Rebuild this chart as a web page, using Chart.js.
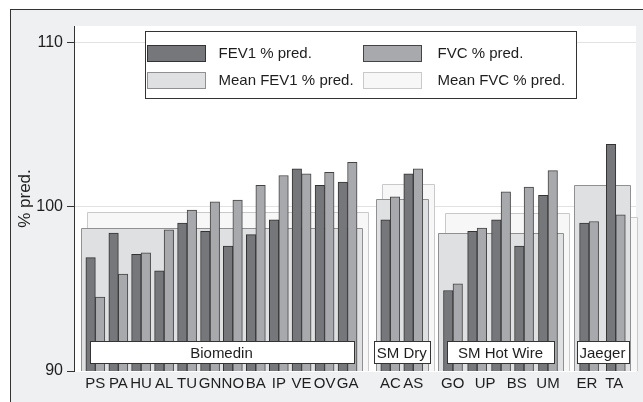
<!doctype HTML>
<html lang="en">
<head>
    <meta charset=utf-8>
    <title>FEV1 and FVC % pred.</title>
    <style type="text/css">
        * {
            padding: 0;
            margin: 0;
        }

        div {
            width: 643px;
            height: 402px;
        }
    </style>
    <script src="https://cdn.jsdelivr.net/npm/chart.js"></script>
</head>
<body>
    <div>
        <canvas id="pftChart"></canvas>
    </div>

    <script type="text/javascript">
        // where each pair of bars sits on the x scale (1 unit ~ one pair)
        const sitePos = [0.92, 1.91, 2.89, 3.88, 4.87, 5.86, 6.84, 7.83, 8.82, 9.80, 10.79, 11.78,
                         13.62, 14.61,
                         16.32, 17.36, 18.39, 19.38, 20.41,
                         22.18, 23.33];

        const fev1 = [96.9, 98.4, 97.1, 96.1, 99.0, 98.5, 97.6, 98.3, 99.2, 102.3, 101.3, 101.5,
                      99.2, 102.0,
                      94.9, 98.5, 99.2, 97.6, 100.7,
                      99.0, 103.8];

        const fvc = [94.5, 95.9, 97.2, 98.6, 99.8, 100.3, 100.4, 101.3, 101.9, 102.0, 102.1, 102.7,
                     100.6, 102.3,
                     95.3, 98.7, 100.9, 101.2, 102.2,
                     99.1, 99.5];

        const groups = ['Biomedin', 'SM Dry', 'SM Hot Wire', 'Jaeger'];
        const groupSize = [12, 2, 5, 2];
        const meanFev1 = [98.7, 100.5, 98.4, 101.3];
        const meanFvc = [99.65, 101.4, 99.6, 99.35];

        const tickLabels = ['PS', 'PA', 'HU', 'AL', 'TU', 'GN', 'NO', 'BA', 'IP', 'VE', 'OV', 'GA',
                            'AC', 'AS', 'GO', 'UP', 'BS', 'UM', 'ER', 'TA'];
        const tickPos = [0.92, 1.91, 2.89, 3.88, 4.87, 5.86, 6.84, 7.83, 8.82, 9.80, 10.79, 11.78,
                         13.62, 14.61, 16.31, 17.70, 19.07, 20.41, 22.09, 23.26];
        const yTicks = [90, 100, 110];

        const legendItems = [
            {text: 'FEV1 % pred.', fill: '#76777b', border: '#333'},
            {text: 'FVC % pred.', fill: '#a8a9ac', border: '#444'},
            {text: 'Mean FEV1 % pred.', fill: '#dfe0e2', border: '#909093'},
            {text: 'Mean FVC % pred.', fill: '#f7f7f8', border: '#c9c9cb'}
        ];

        const FONT = '"Liberation Sans", Arial, sans-serif';
        Chart.defaults.font.family = FONT;
        Chart.defaults.color = '#1e1e1e';

        // grey graph region with frame, white plot region
        const background = {
            id: 'background',
            beforeDraw(chart) {
                const {ctx, chartArea: a} = chart;
                ctx.save();
                ctx.fillStyle = '#fff';
                ctx.fillRect(0, 0, chart.width, chart.height);
                ctx.fillStyle = '#eff0f2';
                ctx.fillRect(10, 9, chart.width, chart.height);
                ctx.strokeStyle = '#333';
                ctx.lineWidth = 1;
                ctx.strokeRect(10.5, 9.5, chart.width + 10, chart.height + 10);
                ctx.fillStyle = '#fff';
                ctx.fillRect(a.left, a.top, a.right - a.left, a.bottom - a.top + 1);
                ctx.restore();
            }
        };

        function drawBox(ctx, x, y, from, to, value, fill, stroke) {
            const l = Math.round(x.getPixelForValue(from)) + 0.5;
            const r = Math.round(x.getPixelForValue(to)) + 0.5;
            const t = Math.round(y.getPixelForValue(value)) + 0.5;
            const b = y.bottom;
            ctx.fillStyle = fill;
            ctx.fillRect(l, t, r - l, b - t);
            ctx.strokeStyle = stroke;
            ctx.beginPath();
            ctx.moveTo(l, b);
            ctx.lineTo(l, t);
            ctx.lineTo(r, t);
            ctx.lineTo(r, b);
            ctx.stroke();
        }

        // mean boxes behind each group of bars
        const meanBoxes = {
            id: 'meanBoxes',
            beforeDatasetsDraw(chart) {
                const {ctx, scales: {x, y}} = chart;
                ctx.save();
                ctx.lineWidth = 1;
                let start = 0;
                groups.forEach((g, i) => {
                    const first = sitePos[start];
                    const last = sitePos[start + groupSize[i] - 1];
                    drawBox(ctx, x, y, first - 0.36, last + 0.9, meanFvc[i], '#f7f7f8', '#c9c9cb');
                    drawBox(ctx, x, y, first - 0.63, last + 0.63, meanFev1[i], '#dfe0e2', '#909093');
                    start += groupSize[i];
                });
                ctx.restore();
            }
        };

        // white name boxes at the foot of each group
        const groupLabels = {
            id: 'groupLabels',
            afterDatasetsDraw(chart) {
                const {ctx, scales: {x, y}} = chart;
                ctx.save();
                ctx.font = '15px ' + FONT;
                ctx.textAlign = 'center';
                ctx.textBaseline = 'middle';
                ctx.lineWidth = 1;
                let start = 0;
                groups.forEach((g, i) => {
                    const first = x.getPixelForValue(sitePos[start] - 0.25);
                    const last = x.getPixelForValue(sitePos[start + groupSize[i] - 1] + 0.25);
                    const mid = (first + last) / 2;
                    const w = Math.max(last - first, ctx.measureText(g).width + 6);
                    const t = Math.round(y.getPixelForValue(91.8)) + 0.5;
                    const b = Math.round(y.getPixelForValue(90.5)) + 0.5;
                    const l = Math.round(mid - w / 2) + 0.5;
                    ctx.fillStyle = '#fff';
                    ctx.fillRect(l, t, Math.round(w), b - t);
                    ctx.strokeStyle = '#333';
                    ctx.strokeRect(l, t, Math.round(w), b - t);
                    ctx.fillStyle = '#1e1e1e';
                    ctx.fillText(g, mid, (t + b) / 2 + 1);
                    start += groupSize[i];
                });
                ctx.restore();
            }
        };

        const legendBox = {
            id: 'legendBox',
            afterDraw(chart) {
                const ctx = chart.ctx;
                ctx.save();
                ctx.lineWidth = 1;
                ctx.fillStyle = '#fff';
                ctx.fillRect(145, 31, 431, 67);
                ctx.strokeStyle = '#333';
                ctx.strokeRect(145.5, 31.5, 431, 67);
                ctx.font = '15px ' + FONT;
                ctx.textBaseline = 'middle';
                legendItems.forEach((item, i) => {
                    const sx = 147.5 + (i % 2) * 216;
                    const sy = 45.5 + Math.floor(i / 2) * 27;
                    ctx.fillStyle = item.fill;
                    ctx.fillRect(sx, sy, 58, 16);
                    ctx.strokeStyle = item.border;
                    ctx.strokeRect(sx, sy, 58, 16);
                    ctx.fillStyle = '#1e1e1e';
                    ctx.fillText(item.text, sx + 71 + (i % 2) * 3, sy + 8.5);
                });
                ctx.restore();
            }
        };

        const data = {
            datasets: [{
                label: 'FEV1 % pred.',
                data: sitePos.map((p, i) => ({x: p, y: fev1[i]})),
                backgroundColor: '#76777b',
                borderColor: '#333',
                borderWidth: 1,
                barThickness: 9.5
            }, {
                label: 'FVC % pred.',
                data: sitePos.map((p, i) => ({x: p, y: fvc[i]})),
                backgroundColor: '#a8a9ac',
                borderColor: '#444',
                borderWidth: 1,
                barThickness: 9.5
            }]
        };

        const config = {
            type: 'bar',
            data,
            options: {
                responsive: true,
                maintainAspectRatio: false,
                animation: false,
                layout: {
                    padding: {top: 26, right: 7, bottom: 0, left: 0}
                },
                plugins: {
                    legend: {display: false},
                    tooltip: {enabled: false}
                },
                scales: {
                    x: {
                        type: 'linear',
                        offset: false,
                        min: 0,
                        max: 24.2,
                        afterBuildTicks: s => { s.ticks = tickPos.map(v => ({value: v})); },
                        afterFit: s => { s.height = 31; },
                        border: {display: false},
                        grid: {display: false, drawTicks: false},
                        ticks: {
                            autoSkip: false,
                            maxRotation: 0,
                            minRotation: 0,
                            padding: 4,
                            font: {size: 15},
                            callback: (v, i) => tickLabels[i]
                        }
                    },
                    y: {
                        min: 90,
                        max: 111,
                        afterBuildTicks: s => { s.ticks = yTicks.map(v => ({value: v})); },
                        afterFit: s => { s.width = 74; },
                        border: {color: '#333', width: 1},
                        grid: {
                            color: c => c.tick && c.tick.value === 90 ? 'rgba(0,0,0,0)' : '#e2e2e2',
                            tickColor: '#333',
                            tickLength: 7
                        },
                        ticks: {
                            padding: 4,
                            font: {size: 16}
                        },
                        title: {
                            display: true,
                            text: '% pred.',
                            font: {size: 17},
                            padding: {top: 15, bottom: 0}
                        }
                    }
                }
            },
            plugins: [background, meanBoxes, groupLabels, legendBox]
        };

        const chart = new Chart(document.getElementById('pftChart'), config);
    </script>
</body>
</html>
